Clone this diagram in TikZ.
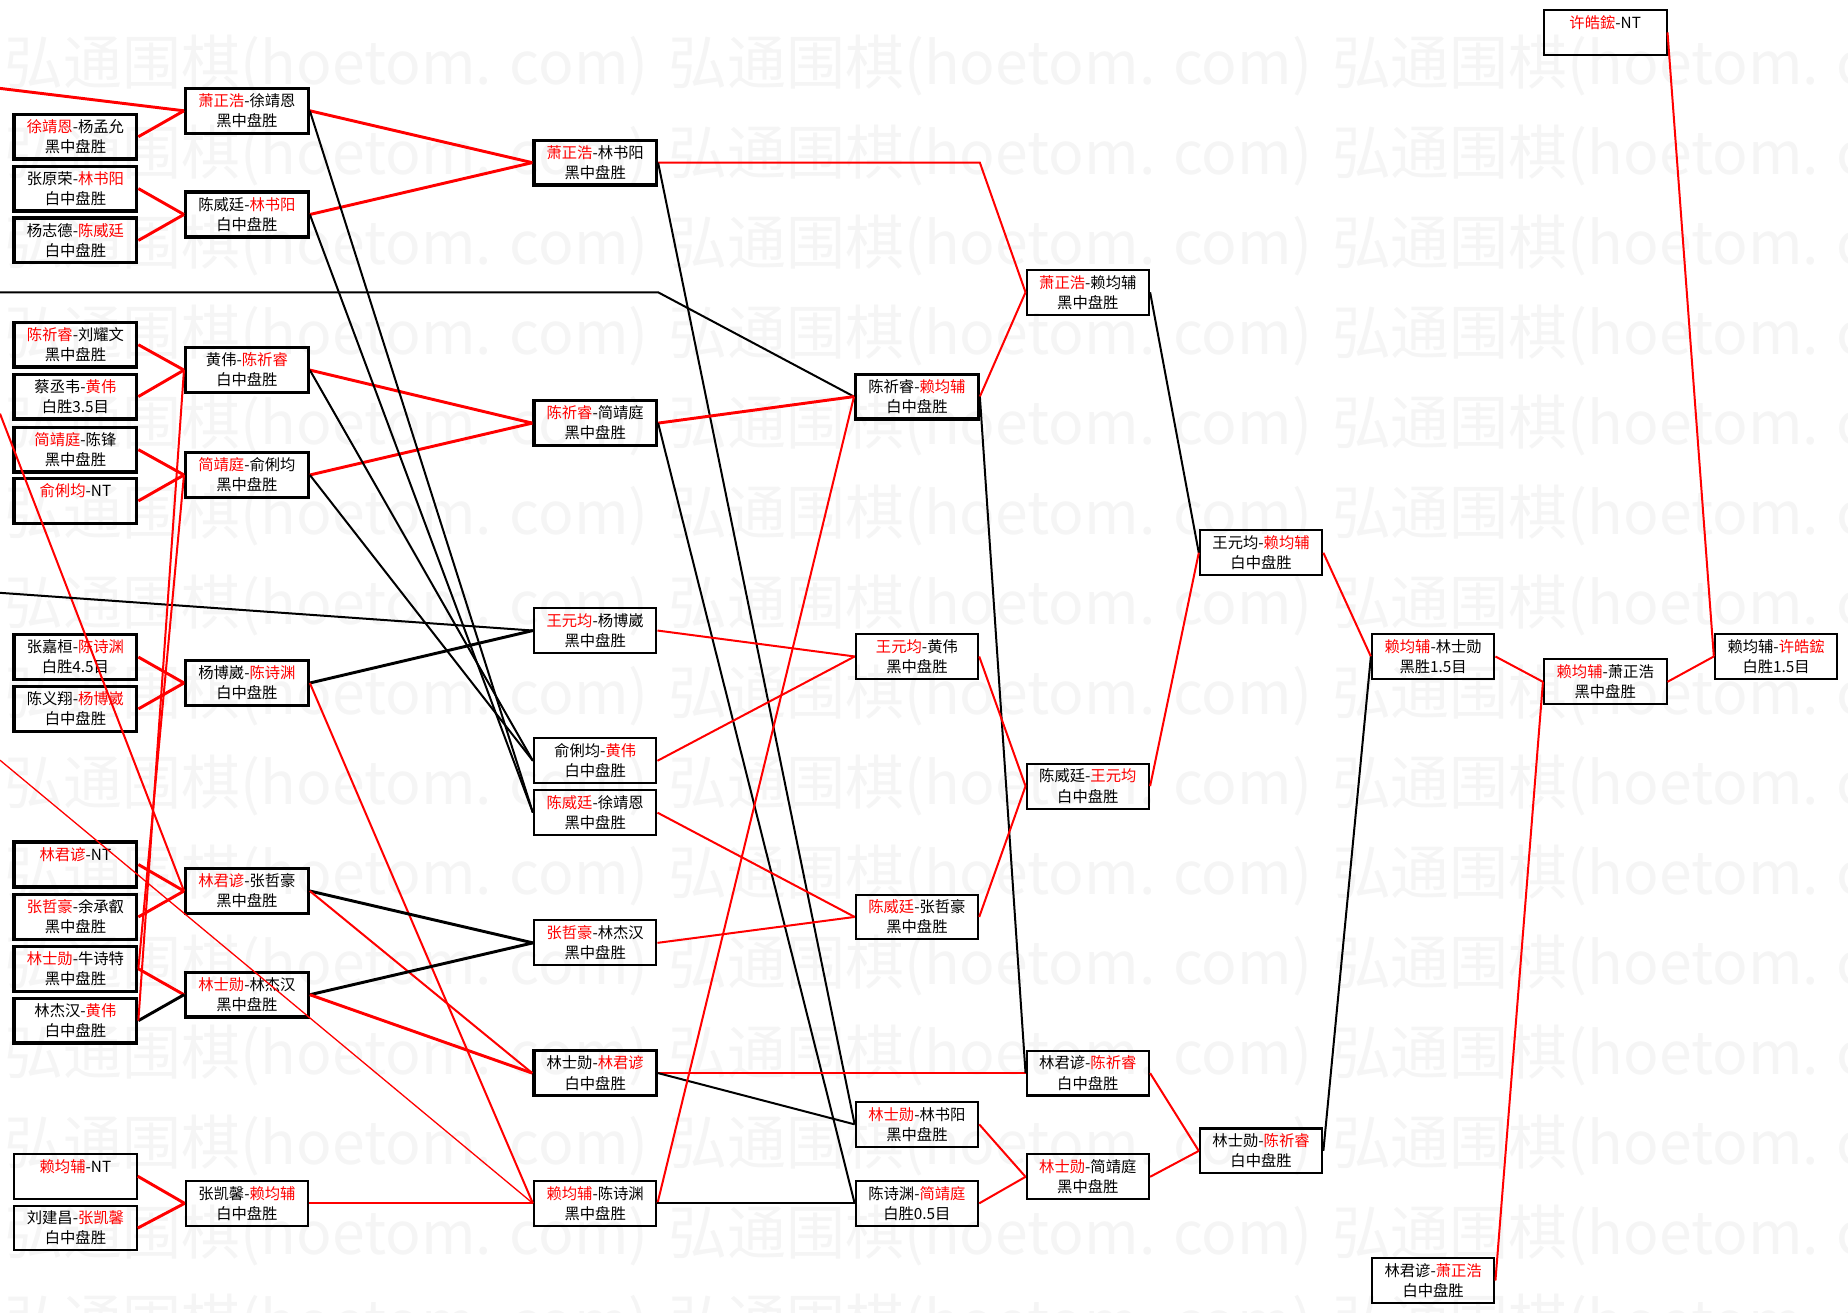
\documentclass[tikz,border=0pt]{standalone}
\usepackage{fontspec}
\setmainfont{Noto Sans CJK SC}
\usepackage{tikz}

\newcommand{\wn}[1]{\textcolor{red}{#1}}

\begin{document}
\begin{tikzpicture}[x=1pt, y=-1pt,
		game/.style={draw, line width=1.7pt, minimum width=104pt, minimum height=38pt, inner sep=0pt, align=center, font=\fontsize{13}{17}\selectfont},
		gamebold/.style={game, line width=2.8pt},
		won/.style={red, line width=1.7pt},
		lost/.style={black, line width=1.7pt},
		heavy/.style={line width=2.5pt},
		slim/.style={line width=1.1pt},
		wmark/.style={anchor=west, inner sep=0pt, text=black!4, font=\fontsize{50}{50}\selectfont}]
		\useasboundingbox (0, 0) rectangle (1568, 1114);

		% watermark
		\foreach \r in {0,...,14} {
			\foreach \c in {0,...,3} {
				\node[wmark] at (4+563*\c, 56+76.3*\r) (wm-\r-\c) {弘通围棋(hoetom. com)};
			}
		}

		% first column
		\node[gamebold] at (64, 116) (A1) {\wn{徐靖恩}-杨孟允\\黑中盘胜};
		\node[gamebold] at (64, 160) (A2) {张原荣-\wn{林书阳}\\白中盘胜};
		\node[gamebold] at (64, 204) (A3) {杨志德-\wn{陈威廷}\\白中盘胜};
		\node[gamebold] at (64, 292.5) (A4) {\wn{陈祈睿}-刘耀文\\黑中盘胜};
		\node[gamebold] at (64, 336.5) (A5) {蔡丞韦-\wn{黄伟}\\白胜3.5目};
		\node[gamebold] at (64, 381.5) (A6) {\wn{简靖庭}-陈锋\\黑中盘胜};
		\node[gamebold] at (64, 425) (A7) {\wn{俞俐均}-NT\\\phantom{中}};
		\node[gamebold] at (64, 557.5) (A8) {张嘉桓-\wn{陈诗渊}\\白胜4.5目};
		\node[gamebold] at (64, 601.5) (A9) {陈义翔-\wn{杨博崴}\\白中盘胜};
		\node[gamebold] at (64, 733.5) (A10) {\wn{林君谚}-NT\\\phantom{中}};
		\node[gamebold] at (64, 778) (A11) {\wn{张哲豪}-余承叡\\黑中盘胜};
		\node[gamebold] at (64, 822) (A12) {\wn{林士勋}-牛诗特\\黑中盘胜};
		\node[gamebold] at (64, 866) (A13) {林杰汉-\wn{黄伟}\\白中盘胜};
		\node[game] at (64, 998) (A14) {\wn{赖均辅}-NT\\\phantom{中}};
		\node[game] at (64, 1042) (A15) {刘建昌-\wn{张凯馨}\\白中盘胜};

		% second column
		\node[gamebold] at (209.5, 94) (B1) {\wn{萧正浩}-徐靖恩\\黑中盘胜};
		\node[gamebold] at (209.5, 182) (B2) {陈威廷-\wn{林书阳}\\白中盘胜};
		\node[gamebold] at (209.5, 314) (B3) {黄伟-\wn{陈祈睿}\\白中盘胜};
		\node[gamebold] at (209.5, 403) (B4) {\wn{简靖庭}-俞俐均\\黑中盘胜};
		\node[gamebold] at (209.5, 579.5) (B5) {杨博崴-\wn{陈诗渊}\\白中盘胜};
		\node[gamebold] at (209.5, 756) (B6) {\wn{林君谚}-张哲豪\\黑中盘胜};
		\node[gamebold] at (209.5, 844) (B7) {\wn{林士勋}-林杰汉\\黑中盘胜};
		\node[game] at (209.5, 1021) (B8) {张凯馨-\wn{赖均辅}\\白中盘胜};

		% third column
		\node[gamebold] at (505, 138) (C1) {\wn{萧正浩}-林书阳\\黑中盘胜};
		\node[gamebold] at (505, 359) (C2) {\wn{陈祈睿}-简靖庭\\黑中盘胜};
		\node[game] at (505, 535) (C3) {\wn{王元均}-杨博崴\\黑中盘胜};
		\node[game] at (505, 645.5) (C4) {俞俐均-\wn{黄伟}\\白中盘胜};
		\node[game] at (505, 689.5) (C5) {\wn{陈威廷}-徐靖恩\\黑中盘胜};
		\node[game] at (505, 800) (C6) {\wn{张哲豪}-林杰汉\\黑中盘胜};
		\node[gamebold] at (505, 910.5) (C7) {林士勋-\wn{林君谚}\\白中盘胜};
		\node[game] at (505, 1021) (C8) {\wn{赖均辅}-陈诗渊\\黑中盘胜};

		% fourth column
		\node[gamebold] at (778, 336.5) (D1) {陈祈睿-\wn{赖均辅}\\白中盘胜};
		\node[game] at (778, 557) (D2) {\wn{王元均}-黄伟\\黑中盘胜};
		\node[game] at (778, 778) (D3) {\wn{陈威廷}-张哲豪\\黑中盘胜};
		\node[game] at (778, 954) (D4) {\wn{林士勋}-林书阳\\黑中盘胜};
		\node[game] at (778, 1021) (D5) {陈诗渊-\wn{简靖庭}\\白胜0.5目};

		% fifth column
		\node[game] at (923, 248) (E1) {\wn{萧正浩}-赖均辅\\黑中盘胜};
		\node[game] at (923, 667) (E2) {陈威廷-\wn{王元均}\\白中盘胜};
		\node[game] at (923, 910.5) (E3) {林君谚-\wn{陈祈睿}\\白中盘胜};
		\node[game] at (923, 998.5) (E4) {\wn{林士勋}-简靖庭\\黑中盘胜};

		% later rounds
		\node[game] at (1070, 469) (F1) {王元均-\wn{赖均辅}\\白中盘胜};
		\node[game] at (1070, 976.5) (F2) {林士勋-\wn{陈祈睿}\\白中盘胜};
		\node[game] at (1216, 557) (G1) {\wn{赖均辅}-林士勋\\黑胜1.5目};
		\node[game] at (1216, 1086.5) (G2) {林君谚-\wn{萧正浩}\\白中盘胜};
		\node[game] at (1362, 27.5) (H1) {\wn{许皓鋐}-NT\\\phantom{中}};
		\node[game] at (1362, 578.5) (H2) {\wn{赖均辅}-萧正浩\\黑中盘胜};
		\node[game] at (1507, 557) (I1) {赖均辅-\wn{许皓鋐}\\白胜1.5目};

		% lines coming in from off the page
		\coordinate (in1) at (0, 75);
		\coordinate (in2) at (0, 248);
		\coordinate (in3) at (0, 351);
		\coordinate (in4) at (0, 503);
		\coordinate (in5) at (0, 645);

		\draw[won, heavy] (in1) -- (B1.west);
		\draw[lost] (in2) -- (in2 -| C1.east) -- (D1.west);
		\draw[won] (in3) -- (B6.west);
		\draw[lost] (in4) -- (C3.west);
		\draw[won, slim] (in5) -- (C8.west);

		% first column to second column
		\draw[won, heavy] (A1.east) -- (B1.west);
		\draw[won, heavy] (A2.east) -- (B2.west);
		\draw[won, heavy] (A3.east) -- (B2.west);
		\draw[won, heavy] (A4.east) -- (B3.west);
		\draw[won, heavy] (A5.east) -- (B3.west);
		\draw[won, heavy] (A6.east) -- (B4.west);
		\draw[won, heavy] (A7.east) -- (B4.west);
		\draw[won, heavy] (A8.east) -- (B5.west);
		\draw[won, heavy] (A9.east) -- (B5.west);
		\draw[won, heavy] (A10.east) -- (B6.west);
		\draw[won, heavy] (A11.east) -- (B6.west);
		\draw[won, heavy] (A12.east) -- (B7.west);
		\draw[lost, heavy] (A13.east) -- (B7.west);
		\draw[won] (A13.east) -- (B3.west);
		\draw[won] (A12.east) -- (B4.west);
		\draw[won, heavy] (A14.east) -- (B8.west);
		\draw[won, heavy] (A15.east) -- (B8.west);

		% second column to third column
		\draw[won, heavy] (B1.east) -- (C1.west);
		\draw[won, heavy] (B2.east) -- (C1.west);
		\draw[won, heavy] (B3.east) -- (C2.west);
		\draw[won, heavy] (B4.east) -- (C2.west);
		\draw[lost] (B1.east) -- (C5.west);
		\draw[lost] (B2.east) -- (C5.west);
		\draw[lost] (B3.east) -- (C4.west);
		\draw[lost] (B4.east) -- (C4.west);
		\draw[lost, heavy] (B5.east) -- (C3.west);
		\draw[won] (B5.east) -- (C8.west);
		\draw[lost, heavy] (B6.east) -- (C6.west);
		\draw[won] (B6.east) -- (C7.west);
		\draw[lost, heavy] (B7.east) -- (C6.west);
		\draw[won, heavy] (B7.east) -- (C7.west);
		\draw[won] (B8.east) -- (C8.west);

		% third column onwards
		\draw[won] (C1.east) -- (C1.east -| D1.east) -- (E1.west);
		\draw[lost] (C1.east) -- (D4.west);
		\draw[won, heavy] (C2.east) -- (D1.west);
		\draw[lost] (C2.east) -- (D5.west);
		\draw[won] (C3.east) -- (D2.west);
		\draw[won] (C4.east) -- (D2.west);
		\draw[won] (C5.east) -- (D3.west);
		\draw[won] (C6.east) -- (D3.west);
		\draw[won] (C7.east) -- (E3.west);
		\draw[lost] (C7.east) -- (D4.west);
		\draw[won] (C8.east) -- (D1.west);
		\draw[lost] (C8.east) -- (D5.west);

		\draw[won] (D1.east) -- (E1.west);
		\draw[lost] (D1.east) -- (E3.west);
		\draw[won] (D2.east) -- (E2.west);
		\draw[won] (D3.east) -- (E2.west);
		\draw[won] (D4.east) -- (E4.west);
		\draw[won] (D5.east) -- (E4.west);

		\draw[lost] (E1.east) -- (F1.west);
		\draw[won] (E2.east) -- (F1.west);
		\draw[won] (E3.east) -- (F2.west);
		\draw[won] (E4.east) -- (F2.west);
		\draw[won] (F1.east) -- (G1.west);
		\draw[lost] (F2.east) -- (G1.west);
		\draw[won] (G1.east) -- (H2.west);
		\draw[won] (G2.east) -- (H2.west);
		\draw[won] (H1.east) -- (I1.west);
		\draw[won] (H2.east) -- (I1.west);
	\end{tikzpicture}
\end{document}
